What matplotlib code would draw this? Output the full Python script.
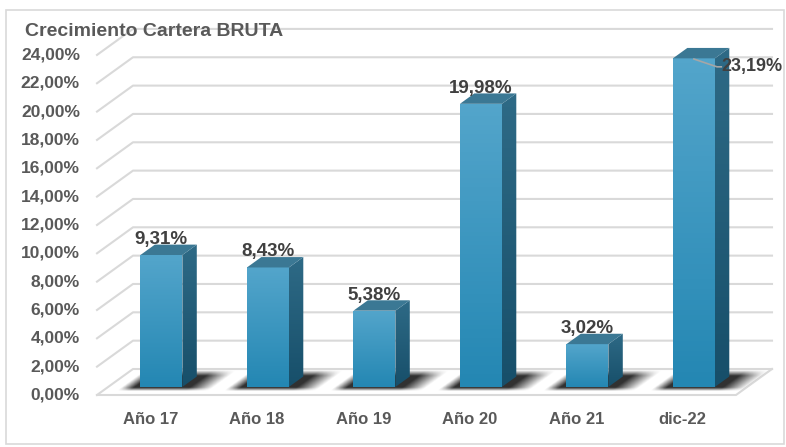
import numpy as np
import matplotlib
matplotlib.use("Agg")
from matplotlib import pyplot as plt
from matplotlib.patches import Polygon, Rectangle
from matplotlib.colors import LinearSegmentedColormap

# Data
categories = ["Año 17", "Año 18", "Año 19", "Año 20", "Año 21", "dic-22"]
values = [9.31, 8.43, 5.38, 19.98, 3.02, 23.19]
yticks = list(range(0, 25, 2))

plt.rcParams['font.family'] = ['Liberation Sans', 'DejaVu Sans']

def pct(v):
    return f"{v:.2f}".replace(".", ",") + "%"

fig = plt.figure(figsize=(7.86, 4.47), dpi=100)
ax = fig.add_axes([0, 0, 1, 1])

# oblique depth of the whole floor, and bar placement within it
DX, DY = 0.338, 1.835
f1, f2 = 0.31, 0.71
bw = 0.394
text_col = "#595959"

# frame
fig.patches.append(Rectangle((6 / 786, 3 / 447), 778 / 786, 434 / 447, transform=fig.transFigure,
                             fill=False, ec="#d9d9d9", lw=1.2))

# walls / gridlines
n = len(categories)
for v in yticks:
    ax.plot([0, DX, n + DX], [v, v + DY, v + DY], color="#d9d9d9", lw=1.5, zorder=1)
    ax.text(-0.16, v, pct(v), ha="right", va="center", fontsize=12.5, fontweight="bold", color=text_col)
ax.plot([0, n, n + DX], [0, 0, DY], color="#d9d9d9", lw=1.5, zorder=1)

front_cmap = LinearSegmentedColormap.from_list("f", ["#2487b3", "#53a5cb"])
side_cmap = LinearSegmentedColormap.from_list("s", ["#174f6a", "#2e6a86"])


def ramp(t, a, b):
    return np.clip((t - a) / (b - a), 0, 1)


for i, (cat, v) in enumerate(zip(categories, values)):
    x0 = i + 0.5 - bw / 2 + f1 * DX
    x1 = x0 + bw
    y0 = f1 * DY
    y1 = y0 + v
    ddx, ddy = (f2 - f1) * DX, (f2 - f1) * DY

    # soft floor shadow (oblique parallelogram with blurred edges)
    ex = [x0 - 0.3, x1 + ddx + 0.5, y0 - 0.5, y0 + ddy + 0.8]
    gx, gy = np.meshgrid(np.linspace(ex[0], ex[1], 180), np.linspace(ex[2], ex[3], 70))
    vv = gy - y0
    uu = gx - vv * DX / DY
    a = (ramp(uu, x0 - 0.17, x0 - 0.05) * ramp(-uu, -(x1 + 0.3), -(x1 + 0.08))
         * ramp(vv, -0.3, -0.05) * ramp(-vv, -(ddy + 0.45), -(ddy + 0.05)))
    rgba = np.zeros(gx.shape + (4,))
    rgba[..., :3] = 0.1
    rgba[..., 3] = 0.9 * a
    ax.imshow(rgba, origin="lower", extent=ex, aspect="auto", zorder=2, interpolation="bilinear")

    # front face gradient
    front = Rectangle((x0, y0), bw, v, fc="none", ec="none", zorder=3)
    ax.add_patch(front)
    im = ax.imshow(np.linspace(0, 1, 64).reshape(-1, 1), cmap=front_cmap, origin="lower",
                   extent=[x0, x1, y0, y1], aspect="auto", zorder=3)
    im.set_clip_path(front)

    # side face
    side = Polygon([(x1, y0), (x1 + ddx, y0 + ddy), (x1 + ddx, y1 + ddy), (x1, y1)], closed=True,
                   fc="none", ec="none", zorder=3)
    ax.add_patch(side)
    im2 = ax.imshow(np.linspace(0, 1, 64).reshape(-1, 1), cmap=side_cmap, origin="lower",
                    extent=[x1, x1 + ddx, y0, y1 + ddy], aspect="auto", zorder=3)
    im2.set_clip_path(side)

    # top face
    ax.add_patch(Polygon([(x0, y1), (x1, y1), (x1 + ddx, y1 + ddy), (x0 + ddx, y1 + ddy)], closed=True,
                         fc="#3b7894", ec="none", zorder=3))

    # value label
    if i == n - 1:
        ax.plot([x0 + bw * 0.5, x1 + 0.02, x1 + 0.06], [y1 - 0.05, y1 - 0.6, y1 - 0.6],
                color="#a6a6a6", lw=1.2, zorder=4)
        ax.text(x1 + 0.06, y1 - 0.6, pct(v), ha="left", va="center", fontsize=13,
                fontweight="bold", color="#404040", zorder=5)
    else:
        ax.text((x0 + x1) / 2, y1 + 1.1, pct(v), ha="center", va="center", fontsize=13.5,
                fontweight="bold", color="#404040", zorder=5)

    ax.text(i + 0.5, -1.76, cat, ha="center", va="center", fontsize=12, fontweight="bold", color=text_col)

ax.text(-0.676, 25.62, "Crecimiento Cartera BRUTA", ha="left", va="center", fontsize=14,
        fontweight="bold", color=text_col)

ax.set_xlim(-97 / 106.5, (786 - 97) / 106.5)
ax.set_ylim(-52 / 14.17, 395 / 14.17)
ax.axis("off")

fig.savefig("out.png", dpi=100)
